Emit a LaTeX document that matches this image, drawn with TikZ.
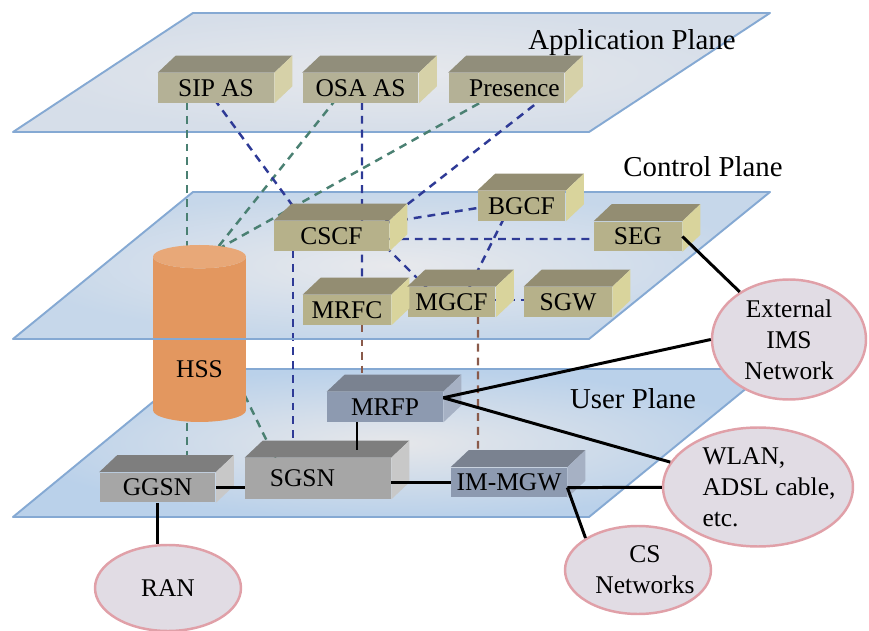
\documentclass[tikz,border=0pt]{standalone}
\usepackage{fontspec}
\setmainfont{Liberation Serif}
\usetikzlibrary{calc,shapes.geometric}
\definecolor{imsPlaneEdge}{RGB}{133, 169, 211}
\definecolor{imsAppOuter}{RGB}{214, 222, 233}
\definecolor{imsAppInner}{RGB}{230, 232, 236}
\definecolor{imsCtlOuter}{RGB}{198, 215, 234}
\definecolor{imsCtlInner}{RGB}{232, 233, 236}
\definecolor{imsUsrOuter}{RGB}{186, 209, 234}
\definecolor{imsUsrInner}{RGB}{230, 231, 234}
\definecolor{imsAppFront}{RGB}{180, 177, 150}
\definecolor{imsAppTop}{RGB}{145, 142, 123}
\definecolor{imsAppSide}{RGB}{214, 209, 168}
\definecolor{imsCtlFront}{RGB}{182, 177, 138}
\definecolor{imsCtlTop}{RGB}{147, 141, 114}
\definecolor{imsCtlSide}{RGB}{217, 212, 156}
\definecolor{imsGrayFront}{RGB}{166, 166, 166}
\definecolor{imsGrayTop}{RGB}{126, 126, 126}
\definecolor{imsGraySide}{RGB}{200, 200, 200}
\definecolor{imsBlueFront}{RGB}{141, 154, 176}
\definecolor{imsBlueTop}{RGB}{122, 130, 144}
\definecolor{imsBlueSide}{RGB}{166, 177, 196}
\definecolor{imsHssBody}{RGB}{227, 151, 95}
\definecolor{imsHssTop}{RGB}{232, 168, 120}
\definecolor{imsNetFill}{RGB}{225, 220, 228}
\definecolor{imsNetEdge}{RGB}{224, 160, 168}
\definecolor{imsTeal}{RGB}{74, 128, 114}
\definecolor{imsNavy}{RGB}{46, 58, 150}
\definecolor{imsBrown}{RGB}{138, 90, 74}
\pgfdeclarelayer{planes}
\pgfdeclarelayer{wires}
\pgfsetlayers{planes,wires,main}

\begin{document}
\begin{tikzpicture}[
  x=0.02cm, y=-0.02cm,
  plane/.style={draw=imsPlaneEdge, line width=1.1pt, line join=round},
  planelabel/.style={font=\fontsize{16.4}{19}\selectfont},
  box/.style={
    inner sep=0pt,
    minimum width=2.32cm,
    minimum height=0.6cm,
    font=\fontsize{14.5}{17}\selectfont
  },
  narrow/.style={minimum width=1.76cm},
  appbox/.style={box, fill=imsAppFront},
  ctlbox/.style={box, narrow, fill=imsCtlFront},
  graybox/.style={box, fill=imsGrayFront},
  bluebox/.style={box, fill=imsBlueFront},
  net/.style={
    ellipse,
    draw=imsNetEdge,
    line width=1.4pt,
    fill=imsNetFill,
    inner sep=0pt, inner xsep=-2pt, inner ysep=-5pt,
    align=center,
    font=\fontsize{14.5}{17.6}\selectfont
  },
  wire/.style={line width=1.4pt, dash pattern=on 4.5pt off 3.4pt},
  hsslink/.style={wire, imsTeal},
  siplink/.style={wire, imsNavy},
  medialink/.style={wire, imsBrown},
  link/.style={line width=1.7pt, black}
]
  \useasboundingbox (0,0) rectangle (869,631);

  % planes
  \begin{pgfonlayer}{planes}
    \path[plane, inner color=imsAppInner, outer color=imsAppOuter]
      (13,132) -- (193,13) -- (770,13) -- (589,132) -- cycle;
    \path[plane, inner color=imsCtlInner, outer color=imsCtlOuter]
      (13,339) -- (193,192) -- (770,192) -- (589,339) -- cycle;
    \path[plane, inner color=imsUsrInner, outer color=imsUsrOuter]
      (13,517) -- (193,369) -- (770,369) -- (589,517) -- cycle;
  \end{pgfonlayer}

  \node[planelabel] (applabel) at (632,43) {Application Plane};
  \node[planelabel] (ctllabel) at (703,167) {Control Plane};
  \node[planelabel] (usrlabel) at (633,399) {User Plane};

  % application plane
  \node[appbox] (sipas) at (216,88) {SIP AS};
  \node[appbox] (osaas) at (360.5,88) {OSA AS};
  \node[appbox] (presence) at (506.5,88) {\hspace*{0.32cm}Presence};

  % control plane
  \node[ctlbox, minimum width=2.3cm] (cscf) at (331.5,236) {CSCF};
  \node[ctlbox] (bgcf) at (521.5,206) {BGCF};
  \node[ctlbox] (seg) at (638,236.5) {SEG};
  \node[ctlbox] (mrfc) at (347,310) {MRFC};
  \node[ctlbox] (mgcf) at (451.5,302) {MGCF};
  \node[ctlbox] (sgw) at (568,302) {SGW};

  % user plane
  \node[bluebox] (mrfp) at (385,407) {MRFP};
  \node[graybox] (ggsn) at (157.5,487.5) {GGSN};
  \node[graybox, minimum width=2.92cm, minimum height=0.82cm] (sgsn)
    at (318,478.5) {SGSN\hspace*{0.62cm}};
  \node[bluebox] (immgw) at (509,482.5) {IM-MGW};

  \foreach \n/\t/\s in {sipas/imsAppTop/imsAppSide, osaas/imsAppTop/imsAppSide,
      presence/imsAppTop/imsAppSide, cscf/imsCtlTop/imsCtlSide,
      bgcf/imsCtlTop/imsCtlSide, seg/imsCtlTop/imsCtlSide,
      mrfc/imsCtlTop/imsCtlSide, mgcf/imsCtlTop/imsCtlSide,
      sgw/imsCtlTop/imsCtlSide, mrfp/imsBlueTop/imsBlueSide,
      ggsn/imsGrayTop/imsGraySide, sgsn/imsGrayTop/imsGraySide,
      immgw/imsBlueTop/imsBlueSide} {
    \fill[\t] (\n.north west) -- +(18,-17)
      -- ([shift={(18,-17)}]\n.north east) -- (\n.north east) -- cycle;
    \fill[\s] (\n.north east) -- +(18,-17)
      -- ([shift={(18,-17)}]\n.south east) -- (\n.south east) -- cycle;
  }

  % HSS spans the control and user planes
  \node[cylinder, shape border rotate=90, aspect=0.5,
    minimum width=1.86cm, minimum height=3.54cm, inner sep=0pt,
    cylinder uses custom fill, cylinder body fill=imsHssBody,
    cylinder end fill=imsHssTop,
    font=\fontsize{14.5}{17}\selectfont] (hss)
    at (199.5,339.5) {\raisebox{-0.77cm}[0pt][0pt]{HSS}};
  \draw[plane] (13,339) -- (589,339);

  % outside networks
  \node[net, minimum width=3.08cm, minimum height=2.4cm] (ext)
    at (789,339.5) {External\\IMS\\Network};
  \node[net, align=left, inner xsep=-10pt, minimum width=3.8cm,
    minimum height=2.38cm] (wlan) at (758,487)
    {\hspace*{0.44cm}WLAN,\\\hspace*{0.44cm}ADSL cable,\\\hspace*{0.44cm}etc.};
  \node[net, inner xsep=-6pt, minimum width=2.92cm, minimum height=1.76cm] (cs)
    at (638,570) {\hspace*{0.28cm}CS\\\hspace*{0.28cm}Networks};
  \node[net, minimum width=2.92cm, minimum height=1.72cm] (ran)
    at (168,588) {RAN};

  % signalling
  \begin{pgfonlayer}{wires}
    \draw[hsslink] ($(sipas)+(-29,0)$) -- ($(hss)+(-12.5,0)$);
    \draw[hsslink] ($(osaas)+(-15.5,0)$) -- ($(hss)+(6.5,-77.5)$);
    \draw[hsslink] (presence) -- ($(hss)+(-4.5,-77.5)$);
    \draw[hsslink] ($(hss)+(33,30.5)$) -- ($(sgsn)+(-33,0)$);
    \draw[hsslink] ($(hss)+(-12.5,0)$) -- ($(ggsn)+(29.5,0)$);
    \draw[siplink] ($(sipas)+(-10,0)$) -- ($(cscf)+(-16.5,0)$);
    \draw[siplink] ($(osaas)+(1.5,0)$) -- ($(mrfc)+(15,0)$);
    \draw[siplink] ($(presence)+(49.5,0)$) -- ($(cscf)+(35.5,0)$);
    \draw[siplink] ($(cscf)+(0,-4.7)$) -- ($(bgcf)+(0,-5)$);
    \draw[siplink] ($(cscf)+(0,3)$) -- ($(seg)+(0,2.5)$);
    \draw[siplink] ($(cscf)+(43.5,0)$) -- ($(mgcf)+(-10.5,0)$);
    \draw[siplink] ($(bgcf)+(-11.5,0)$) -- ($(mgcf)+(10.5,0)$);
    \draw[siplink] ($(mgcf)+(0,-2)$) -- ($(sgw)+(0,-2)$);
    \draw[siplink] ($(cscf)+(-38.5,0)$) -- ($(sgsn)+(-25,0)$);
    \draw[medialink] ($(mrfc)+(15,0)$) -- ($(mrfp)+(-23,0)$);
    \draw[medialink] ($(mgcf)+(26.5,0)$) -- ($(immgw)+(-31,0)$);
  \end{pgfonlayer}

  % bearer
  \draw[link] (seg.east) -- (ext);
  \draw[link] (mrfp.9) -- (ext.west);
  \draw[link] (mrfp.9) -- (wlan);
  \draw[link] ($(mrfp.south)+(-28,0)$) -- ($(sgsn.north)+(39,-8)$);
  \draw[link] (ggsn.east) -- (sgsn.west |- ggsn.east);
  \draw[link] (sgsn.east |- immgw.west) -- (immgw.west);
  \draw[link] (immgw.-5) -- (wlan);
  \draw[link] (immgw.-5) -- (cs.north west);
  \draw[link] (ggsn.south) -- (ggsn.south |- ran.north);
\end{tikzpicture}
\end{document}
